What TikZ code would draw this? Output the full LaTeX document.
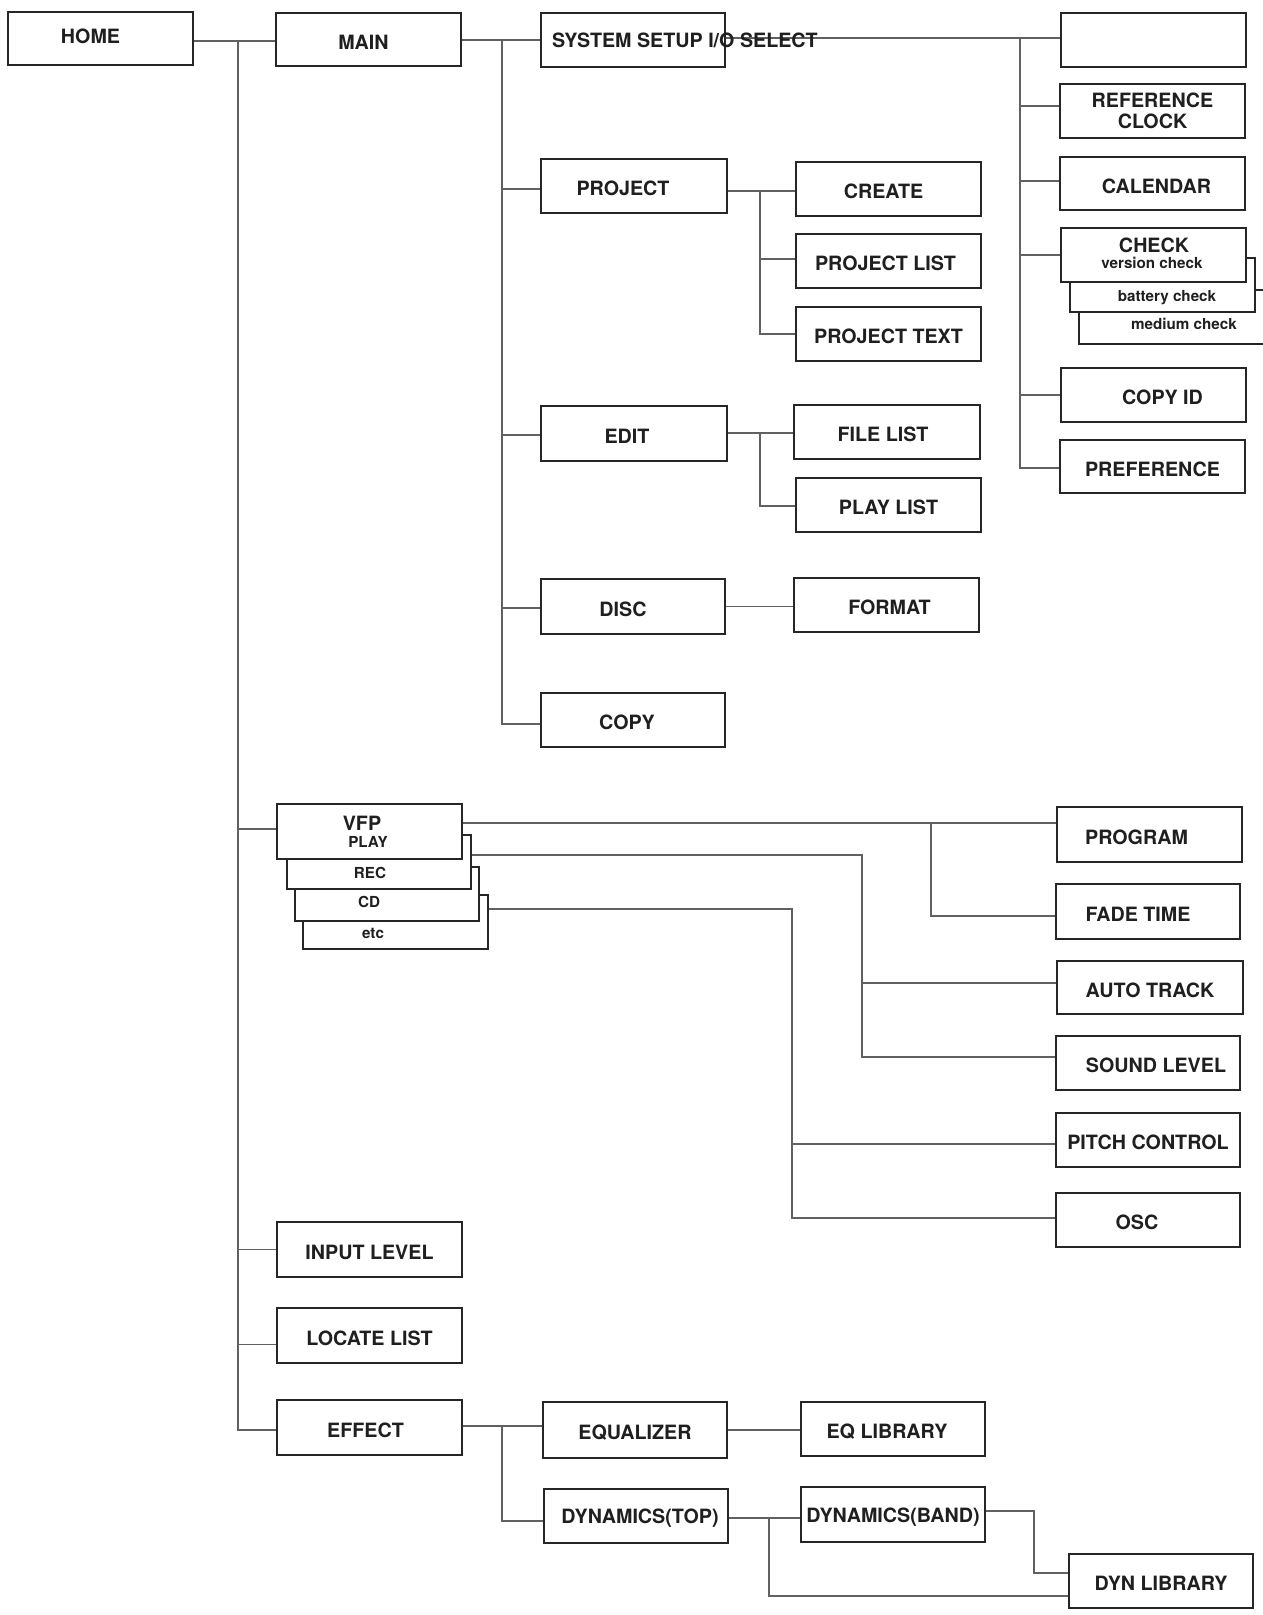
\documentclass[tikz,border=0pt]{standalone}
\usepackage{fontspec}
\setmainfont{TeX Gyre Heros}
\newcommand\fbig{\fontsize{19.7pt}{19pt}\selectfont\bfseries}
\newcommand\fsmall{\fontsize{15.2pt}{15pt}\selectfont\bfseries}
\newcommand\tsh[2]{\hspace*{#1}\hspace*{#1}#2}
\pgfdeclarelayer{bg}
\pgfsetlayers{bg,main}
\tikzset{
  box/.style={draw=black!85, line width=1.6pt, fill=white, inner sep=0pt, font=\fbig, text=black!88, align=center},
  conn/.style={draw=black!62, line width=1.3pt},
  lbl/.style={inner sep=0pt, font=\fbig, text=black!88},
  sm/.style={inner sep=0pt, font=\fsmall, text=black!88}
}
\newcommand\bx[6]{\node[box,minimum width={(#4-#2)*1pt},minimum height={(#5-#3)*1pt}] (#1) at ({(#2+#4)/2},{(#3+#5)/2}) {\raisebox{-2.5pt}[\height][\depth]{#6}};}
\begin{document}
\begin{tikzpicture}[x=1pt,y=-1pt]
\useasboundingbox (0,0) rectangle (1262,1615);
% ---------- boxes ----------
\bx{home}{8}{12}{193}{65}{\raisebox{5pt}[\height][\depth]{\tsh{-10pt}{HOME}}}
\bx{main}{276}{13}{461}{66}{\tsh{-5pt}{MAIN}}
\bx{sys}{541}{13}{725}{67}{}
\bx{top}{1061}{13}{1246}{67}{}
\bx{ref}{1060}{84}{1245}{138}{\begin{tabular}{@{}c@{}}REFERENCE\\CLOCK\end{tabular}}
\bx{cal}{1060}{157}{1245}{210}{\tsh{4pt}{CALENDAR}}
\bx{medium}{1079}{290}{1264}{344}{}
\bx{battery}{1070}{258}{1255}{312}{}
\bx{check}{1061}{228}{1246}{282}{}
\bx{copyid}{1061}{368}{1246}{422}{\tsh{9pt}{COPY ID}}
\bx{pref}{1060}{440}{1245}{493}{PREFERENCE}
\bx{project}{541}{159}{727}{213}{\tsh{-11pt}{PROJECT}}
\bx{create}{796}{162}{981}{216}{\tsh{-5pt}{CREATE}}
\bx{plist}{796}{234}{981}{288}{\tsh{-3pt}{PROJECT LIST}}
\bx{ptext}{796}{307}{981}{361}{PROJECT TEXT}
\bx{edit}{541}{406}{727}{461}{\tsh{-7pt}{EDIT}}
\bx{flist}{794}{405}{980}{459}{\tsh{-4pt}{FILE LIST}}
\bx{pylist}{796}{478}{981}{532}{PLAY LIST}
\bx{disc}{541}{579}{725}{634}{\tsh{-10pt}{DISC}}
\bx{format}{794}{578}{979}{632}{\tsh{3pt}{FORMAT}}
\bx{copy}{541}{693}{725}{747}{\tsh{-6pt}{COPY}}
\bx{etc}{303}{895}{488}{949}{}
\bx{cd}{295}{867}{479}{921}{}
\bx{rec}{287}{835}{471}{889}{}
\bx{vfp}{277}{804}{462}{859}{}
\bx{program}{1057}{807}{1242}{862}{\tsh{-13pt}{PROGRAM}}
\bx{fade}{1056}{884}{1240}{939}{\tsh{-10pt}{FADE TIME}}
\bx{auto}{1057}{961}{1243}{1014}{AUTO TRACK}
\bx{sound}{1056}{1036}{1240}{1090}{\tsh{8pt}{SOUND LEVEL}}
\bx{pitch}{1056}{1113}{1240}{1167}{PITCH CONTROL}
\bx{osc}{1056}{1193}{1240}{1247}{\tsh{-11pt}{OSC}}
\bx{input}{277}{1222}{462}{1277}{INPUT LEVEL}
\bx{locate}{277}{1308}{462}{1363}{LOCATE LIST}
\bx{effect}{277}{1400}{462}{1455}{\tsh{-4pt}{EFFECT}}
\bx{eq}{543}{1402}{727}{1458}{EQUALIZER}
\bx{eqlib}{801}{1402}{985}{1456}{\tsh{-6pt}{EQ LIBRARY}}
\bx{dtop}{544}{1489}{728}{1543}{\tsh{4pt}{DYNAMICS(TOP)}}
\bx{dband}{801}{1487}{985}{1542}{DYNAMICS(BAND)}
\bx{dynlib}{1069}{1554}{1253}{1608}{DYN LIBRARY}
% ---------- texts of stacked / overflowing boxes ----------
\node[lbl, anchor=west] (systxt) at (552,40) {SYSTEM SETUP I/O SELECT};
\node[lbl] (checktxt) at (1154,245) {CHECK};
\node[sm] (vertxt) at (1152,263) {version check};
\node[sm] (battxt) at (1167,298) {battery check};
\node[sm] (medtxt) at (1184,324) {medium check};
\node[lbl] (vfptxt) at (362,823) {VFP};
\node[sm] (playtxt) at (368,842) {PLAY};
\node[sm] (rectxt) at (370,873) {REC};
\node[sm] (cdtxt) at (369,902) {CD};
\node[sm] (etctxt) at (373,933) {etc};
% ---------- junctions ----------
\coordinate (hj) at (238,41);
\coordinate (mj) at (502,40);
\coordinate (sj) at (1020,38);
\coordinate (pj) at (760,191);
\coordinate (ej) at (760,433);
\coordinate (v1) at (931,823);
\coordinate (v2) at (862,855);
\coordinate (v3) at (792,909);
\coordinate (fj) at (502,1426);
\coordinate (dj) at (769,1518);
\coordinate (bj) at (1034,1511);
% ---------- connectors (behind boxes) ----------
\begin{pgfonlayer}{bg}
\draw[conn] (home.east |- hj) -- (main.west |- hj);
\draw[conn] (hj) |- ([yshift=-2.5pt]effect.west);
\draw[conn] (hj) |- ([yshift=2.5pt]vfp.west);
\draw[conn] (hj) |- (input.west);
\draw[conn] (hj) |- ([yshift=-9pt]locate.west);
\draw[conn] (main.east |- mj) -- (sys.west |- mj);
\draw[conn] (mj) |- ([yshift=-4pt]copy.west);
\draw[conn] (mj) |- ([yshift=-3pt]project.west);
\draw[conn] (mj) |- ([yshift=-1.5pt]edit.west);
\draw[conn] (mj) |- ([yshift=-1.5pt]disc.west);
\draw[conn] (sys.east |- sj) -- (top.west |- sj);
\draw[conn] (sj) |- ([yshift=-1.5pt]pref.west);
\draw[conn] (sj) |- ([yshift=5pt]ref.west);
\draw[conn] (sj) |- ([yshift=2.5pt]cal.west);
\draw[conn] (sj) |- (check.west);
\draw[conn] (sj) |- (copyid.west);
\draw[conn] (project.east |- pj) -- (create.west |- pj);
\draw[conn] (pj) |- ([yshift=2pt]plist.west);
\draw[conn] (pj) |- (ptext.west);
\draw[conn] (edit.east |- ej) -- (flist.west |- ej);
\draw[conn] (ej) |- ([yshift=-1pt]pylist.west);
\draw[conn] (disc.east) -- (disc.east -| format.west);
\draw[conn] (vfp.east |- v1) -- (program.west |- v1);
\draw[conn] (v1) |- ([yshift=-4.5pt]fade.west);
\draw[conn] (rec.east |- v2) -- (v2) |- ([yshift=6pt]sound.west);
\draw[conn] (v2) |- ([yshift=4.5pt]auto.west);
\draw[conn] (etc.east |- v3) -- (v3) |- ([yshift=2pt]osc.west);
\draw[conn] (v3) |- ([yshift=-4pt]pitch.west);
\draw[conn] (effect.east |- fj) -- (eq.west |- fj);
\draw[conn] (fj) |- ([yshift=-5pt]dtop.west);
\draw[conn] (eq.east) -- (eq.east -| eqlib.west);
\draw[conn] (dtop.east |- dj) -- (dband.west |- dj);
\draw[conn] (dj) |- ([yshift=-15pt]dynlib.west);
\draw[conn] (dband.east |- bj) -- (bj) |- ([yshift=8pt]dynlib.west);
\end{pgfonlayer}
\end{tikzpicture}
\end{document}
